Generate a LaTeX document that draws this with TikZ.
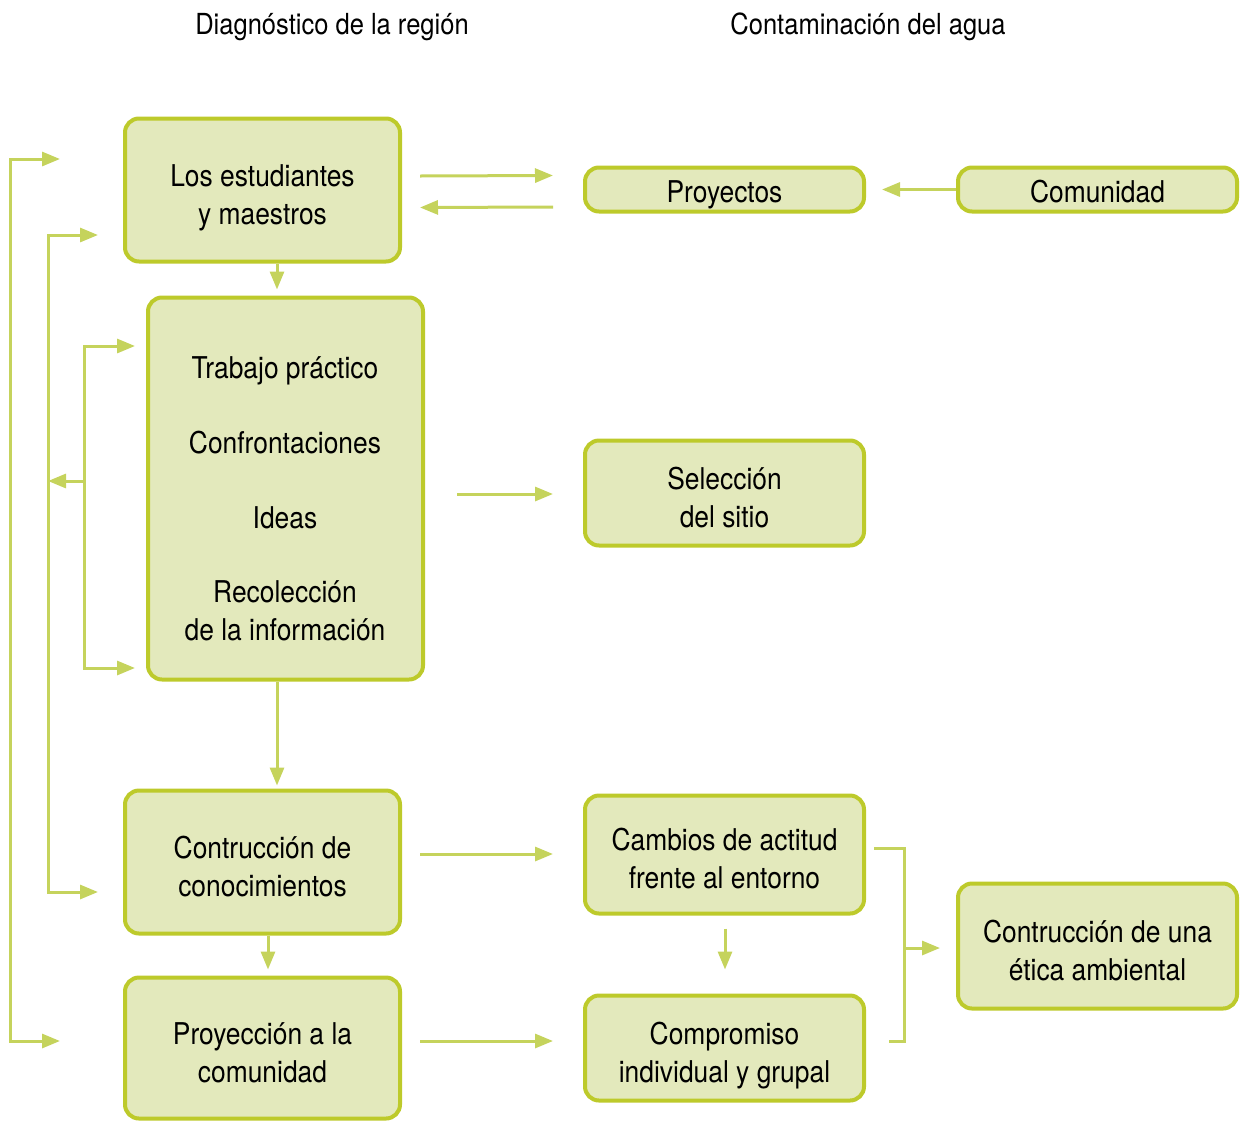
\documentclass[tikz,border=0pt]{standalone}
\usepackage{fontspec}
\setmainfont{TeX Gyre Heros}[FakeStretch=0.88]
\usetikzlibrary{arrows.meta,calc}
\definecolor{boxborder}{HTML}{BDCA2B}
\definecolor{boxfill}{HTML}{E3E9BC}
\definecolor{arrowc}{HTML}{C5D35C}
\begin{document}
\begin{tikzpicture}[x=1pt,y=-1pt,
  box/.style={draw=boxborder,fill=boxfill,line width=4pt,rounded corners=14pt,align=center,
    font=\fontsize{30}{38}\selectfont,inner sep=0pt},
  twoline/.style={text height=76pt,text depth=8pt},
  oneline/.style={text height=31pt,text depth=6pt},
  txt/.style={align=center,font=\fontsize{30}{38}\selectfont,inner sep=0pt},
  conn/.style={draw=arrowc,line width=3pt,-{Triangle[length=18pt,width=14pt]}},
  plain/.style={draw=arrowc,line width=3pt},
  title/.style={font=\fontsize{29}{38}\selectfont}]
\useasboundingbox (0,0) rectangle (1241,1122);

\node[title] (t1) at (332,27) {Diagnóstico de la región};
\node[title] (t2) at (868,27) {Contaminación del agua};

\node[box,twoline,minimum width=275pt,minimum height=143pt] (b1) at (262.5,190) {Los estudiantes\\y maestros};
\node[box,minimum width=275pt,minimum height=382pt] (b2) at (285.5,488.5) {};
\node[txt] (b2t) at (285,499) {Trabajo práctico\\[37pt]Confrontaciones\\[37pt]Ideas\\[36pt]Recolección\\de la información};
\node[box,twoline,minimum width=275pt,minimum height=143pt] (b3) at (262.5,862) {Contrucción de\\conocimientos};
\node[box,twoline,minimum width=275pt,minimum height=141pt] (b4) at (262.5,1048) {Proyección a la\\comunidad};

\node[box,oneline,minimum width=279pt,minimum height=44pt] (pro) at (724.5,189.5) {Proyectos};
\node[box,oneline,minimum width=279pt,minimum height=44pt] (com) at (1097.5,189.5) {Comunidad};
\node[box,twoline,minimum width=279pt,minimum height=105pt] (sel) at (724.5,493) {Selección\\del sitio};
\node[box,twoline,minimum width=279pt,minimum height=118pt] (cam) at (724.5,854.5) {Cambios de actitud\\frente al entorno};
\node[box,twoline,minimum width=279pt,minimum height=105pt] (comp) at (724.5,1048) {Compromiso\\individual y grupal};
\node[box,twoline,minimum width=279pt,minimum height=125pt] (eti) at (1097.5,946) {Contrucción de una\\ética ambiental};

% top connectors
\draw[conn] ($(b1.east)+(18,-14)$) -- ($(pro.west)+(-30,-14)$);
\draw[conn] ($(pro.west)+(-30,17.5)$) -- ($(b1.east)+(18,17.5)$);
\draw[conn] (com.west) -- ($(pro.east)+(16,0)$);
\draw[conn] ($(b1.south)+(14.5,0)$) -- ($(b2.north)+(-8.5,-6)$);
\draw[conn] ($(b2.east)+(32,5.5)$) -- ($(sel.west)+(-30,1)$);
\draw[conn] ($(b2.south)+(-8.5,0)$) -- ($(b3.north)+(14.5,-3)$);
\draw[conn] ($(b3.east)+(18,-8)$) -- ($(cam.west)+(-30,-0.5)$);
\draw[conn] ($(b3.south)+(5.5,0)$) -- ($(b4.north)+(5.5,-6)$);
\draw[conn] ($(b4.east)+(18,-7)$) -- ($(comp.west)+(-30,-7)$);
\draw[conn] ($(cam.south)+(0.5,13)$) -- ($(comp.north)+(0.5,-24)$);

% bracket
\coordinate (brk) at (904,948);
\draw[plain] ($(cam.east)+(8,-6.5)$) -| (brk) |- ($(comp.east)+(23,-7)$);
\draw[conn] (brk) -- ($(eti.west)+(-16,2)$);

% left loops
\coordinate (lo) at (10,600);
\coordinate (lm) at (48,481);
\coordinate (li) at (84,481);
\draw[conn] (lo) |- ($(b1.west)+(-63,-31)$);
\draw[conn] (lo) |- ($(b4.west)+(-63,-7)$);
\draw[conn] (lm) |- ($(b1.west)+(-25,45)$);
\draw[conn] (lm) |- ($(b3.west)+(-25,30)$);
\draw[conn] (li) |- ($(b2.west)+(-11,-142.5)$);
\draw[conn] (li) |- ($(b2.west)+(-11,179.5)$);
\draw[conn] (li) -- (lm);
\end{tikzpicture}
\end{document}
